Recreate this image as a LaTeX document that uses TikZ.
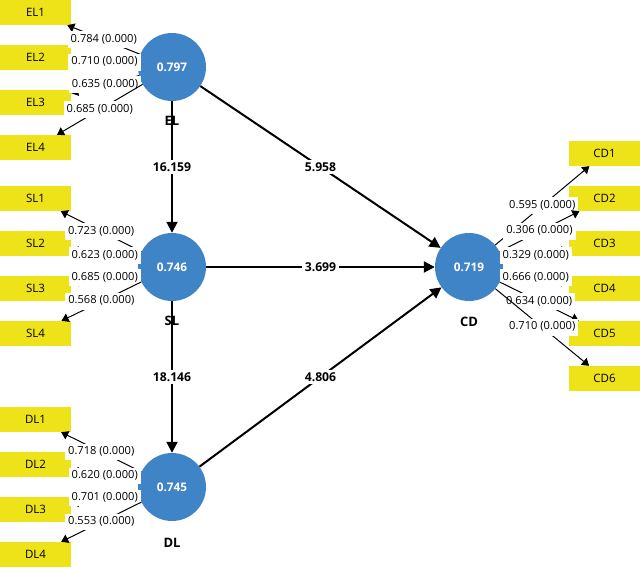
\documentclass[tikz,border=0pt]{standalone}
\usepackage{fontspec}
\setmainfont{Open Sans}
\usetikzlibrary{arrows.meta}
\definecolor{lvblue}{RGB}{64,132,200}
\definecolor{mvyellow}{RGB}{238,226,24}
\begin{document}
\begin{tikzpicture}[x=1pt,y=-1pt,
  ind/.style={fill=mvyellow, minimum width=71pt, minimum height=25pt, inner sep=0pt, font=\fontsize{11.5}{13}\selectfont},
  lv/.style={circle, fill=lvblue, minimum size=68pt, inner sep=0pt, text=white, font=\fontsize{11.8}{13}\selectfont\bfseries},
  lvname/.style={font=\fontsize{13}{15}\selectfont\bfseries},
  load/.style={-{Triangle[length=7pt,width=9pt]}, line width=1pt},
  loadlab/.style={fill=white, inner xsep=3pt, inner ysep=3pt, text height=8pt, text depth=2.8pt, font=\fontsize{11.1}{13}\selectfont},
  struct/.style={-{Triangle[length=11pt,width=11pt]}, line width=2pt},
  coef/.style={fill=white, inner sep=2.5pt, font=\fontsize{12.2}{14}\selectfont\bfseries}
]
\useasboundingbox (0,0) rectangle (640,569);
\fill[white] (0,0) rectangle (640,569);

% indicators
\node[ind] (EL1) at (35.5,12.5) {EL1};
\node[ind] (EL2) at (35.5,57.5) {EL2};
\node[ind] (EL3) at (35.5,102.5) {EL3};
\node[ind] (EL4) at (35.5,147.5) {EL4};
\node[ind] (SL1) at (35.5,198.5) {SL1};
\node[ind] (SL2) at (35.5,243.5) {SL2};
\node[ind] (SL3) at (35.5,288.5) {SL3};
\node[ind] (SL4) at (35.5,333.5) {SL4};
\node[ind] (DL1) at (35.5,419.5) {DL1};
\node[ind] (DL2) at (35.5,464.5) {DL2};
\node[ind] (DL3) at (35.5,509.5) {DL3};
\node[ind] (DL4) at (35.5,554.5) {DL4};
\node[ind] (CD1) at (604.5,153.5) {CD1};
\node[ind] (CD2) at (604.5,198.5) {CD2};
\node[ind] (CD3) at (604.5,243.5) {CD3};
\node[ind] (CD4) at (604.5,288.5) {CD4};
\node[ind] (CD5) at (604.5,333.5) {CD5};
\node[ind] (CD6) at (604.5,378.5) {CD6};

% latent variables
\node[lv] (EL) at (172,67) {0.797};
\node[lv] (SL) at (172,267) {0.746};
\node[lv] (DL) at (172,487) {0.745};
\node[lv] (CD) at (469,267) {0.719};

\node[lvname] (ELn) at (172,121) {EL};
\node[lvname] (SLn) at (172,321) {SL};
\node[lvname] (DLn) at (172,543) {DL};
\node[lvname] (CDn) at (469,322) {CD};

% loadings
\draw[load] (EL) -- node[loadlab] {0.784 (0.000)} (EL1);
\draw[load] (EL) -- node[loadlab] {0.710 (0.000)} (EL2);
\draw[load] (EL) -- node[loadlab] {0.635 (0.000)} (EL3);
\draw[load] (EL) -- node[loadlab] {0.685 (0.000)} (EL4);
\draw[load] (SL) -- node[loadlab] {0.723 (0.000)} (SL1);
\draw[load] (SL) -- node[loadlab] {0.623 (0.000)} (SL2);
\draw[load] (SL) -- node[loadlab] {0.685 (0.000)} (SL3);
\draw[load] (SL) -- node[loadlab] {0.568 (0.000)} (SL4);
\draw[load] (DL) -- node[loadlab] {0.718 (0.000)} (DL1);
\draw[load] (DL) -- node[loadlab] {0.620 (0.000)} (DL2);
\draw[load] (DL) -- node[loadlab] {0.701 (0.000)} (DL3);
\draw[load] (DL) -- node[loadlab] {0.553 (0.000)} (DL4);
\draw[load] (CD) -- node[loadlab] {0.595 (0.000)} (CD1);
\draw[load] (CD) -- node[loadlab] {0.306 (0.000)} (CD2);
\draw[load] (CD) -- node[loadlab] {0.329 (0.000)} (CD3);
\draw[load] (CD) -- node[loadlab] {0.666 (0.000)} (CD4);
\draw[load] (CD) -- node[loadlab] {0.634 (0.000)} (CD5);
\draw[load] (CD) -- node[loadlab] {0.710 (0.000)} (CD6);

% structural paths
\draw[struct] (EL) -- node[coef] {16.159} (SL);
\draw[struct] (SL) -- node[coef] {18.146} (DL);
\draw[struct] (EL) -- node[coef] {5.958} (CD);
\draw[struct] (SL) -- node[coef] {3.699} (CD);
\draw[struct] (DL) -- node[coef] {4.806} (CD);
\end{tikzpicture}
\end{document}
